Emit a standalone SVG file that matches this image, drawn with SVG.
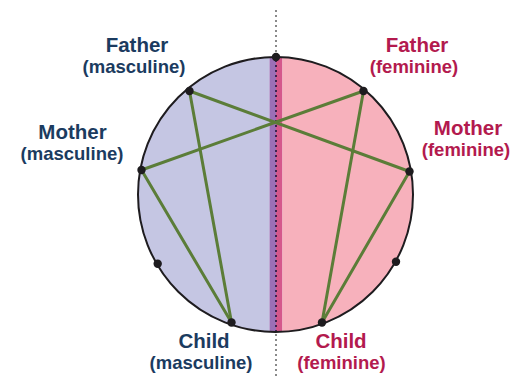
<svg xmlns="http://www.w3.org/2000/svg" width="521" height="377" viewBox="0 0 521 377">
  <defs>
    <clipPath id="circ">
      <circle cx="275.5" cy="194.5" r="137.5"/>
    </clipPath>
  </defs>
  <style>
    .lbl { font-family: "Liberation Sans", Arial, sans-serif; font-weight: bold; text-anchor: middle; }
    .t1 { font-size: 20.5px; }
    .t2 { font-size: 18.5px; }
    .masc { fill: #1b3b5f; }
    .fem { fill: #b31a4e; }
    .dot { fill: #1e1c1f; }
    .edge { stroke: #5b7d38; stroke-width: 3; fill: none; stroke-linecap: round; }
  </style>
  <rect width="521" height="377" fill="#ffffff"/>

  <g id="halves" clip-path="url(#circ)">
    <rect x="130" y="50" width="139.5" height="290" fill="#c5c6e3"/>
    <rect x="269.5" y="50" width="6.5" height="290" fill="#9b6fb6"/>
    <rect x="276" y="50" width="6.5" height="290" fill="#d4578b"/>
    <rect x="282.5" y="50" width="140" height="290" fill="#f7b1bc"/>
  </g>

  <g id="axis">
    <line x1="276" y1="10" x2="276" y2="57" stroke="#8a8a8a" stroke-width="2" stroke-dasharray="2 3"/>
    <line x1="276" y1="60" x2="276" y2="331" stroke="#40224f" stroke-width="2" stroke-dasharray="2 3"/>
    <line x1="276" y1="334" x2="276" y2="377" stroke="#8a8a8a" stroke-width="2" stroke-dasharray="2 3"/>
  </g>

  <circle cx="275.5" cy="194.5" r="137.5" fill="none" stroke="#1e1c1f" stroke-width="2"/>

  <g id="connectors">
    <line class="edge" x1="189.5" y1="91" x2="409.5" y2="171.5"/>
    <line class="edge" x1="141.5" y1="170" x2="363.5" y2="91"/>
    <line class="edge" x1="189.5" y1="91" x2="231.5" y2="322.5"/>
    <line class="edge" x1="141.5" y1="170" x2="231.5" y2="322.5"/>
    <line class="edge" x1="363.5" y1="91" x2="322" y2="322.5"/>
    <line class="edge" x1="409.5" y1="171.5" x2="322" y2="322.5"/>
  </g>

  <g id="top-point"><circle class="dot" cx="276" cy="57" r="4.2"/></g>
  <g id="lower-left-point"><circle class="dot" cx="157.7" cy="263.7" r="4.2"/></g>
  <g id="lower-right-point"><circle class="dot" cx="396" cy="261.7" r="4.2"/></g>

  <g id="father-masculine">
    <circle class="dot" cx="189.5" cy="91" r="4.2"/>
    <text class="lbl t1 masc" x="137" y="52">Father</text>
    <text class="lbl t2 masc" x="134" y="73">(masculine)</text>
  </g>
  <g id="mother-masculine">
    <circle class="dot" cx="141.5" cy="170" r="4.2"/>
    <text class="lbl t1 masc" x="72.5" y="138.5">Mother</text>
    <text class="lbl t2 masc" x="72" y="159.5">(masculine)</text>
  </g>
  <g id="child-masculine">
    <circle class="dot" cx="231.5" cy="322.5" r="4.2"/>
    <text class="lbl t1 masc" x="204" y="347.5">Child</text>
    <text class="lbl t2 masc" x="201" y="368.5">(masculine)</text>
  </g>
  <g id="father-feminine">
    <circle class="dot" cx="363.5" cy="91" r="4.2"/>
    <text class="lbl t1 fem" x="417" y="52">Father</text>
    <text class="lbl t2 fem" x="414" y="73">(feminine)</text>
  </g>
  <g id="mother-feminine">
    <circle class="dot" cx="409.5" cy="171.5" r="4.2"/>
    <text class="lbl t1 fem" x="468" y="135">Mother</text>
    <text class="lbl t2 fem" x="466" y="156">(feminine)</text>
  </g>
  <g id="child-feminine">
    <circle class="dot" cx="322" cy="322.5" r="4.2"/>
    <text class="lbl t1 fem" x="341" y="347.5">Child</text>
    <text class="lbl t2 fem" x="341.5" y="368.5">(feminine)</text>
  </g>
</svg>
